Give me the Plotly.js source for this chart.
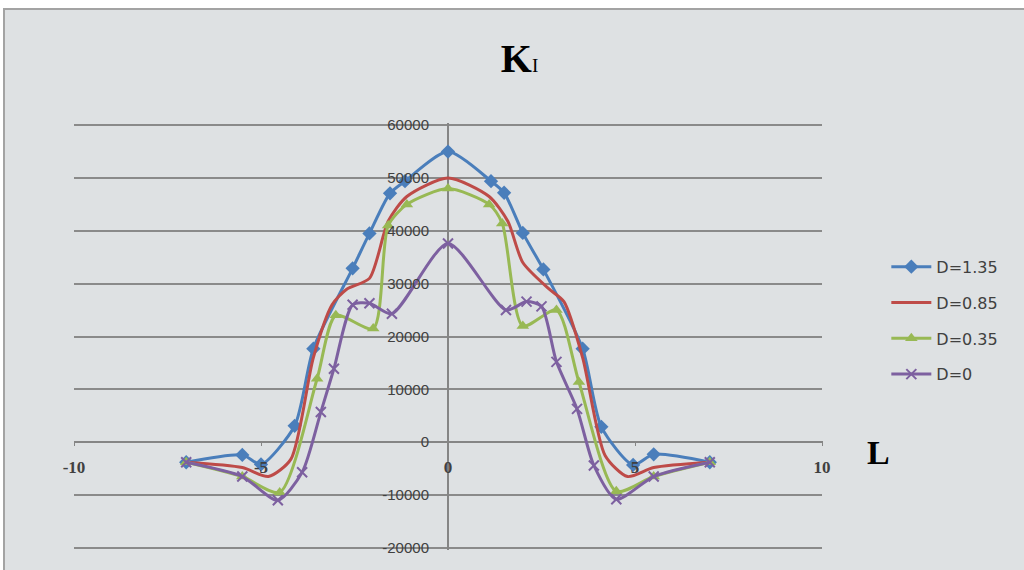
<!DOCTYPE html>
<html>
<head>
<meta charset="utf-8">
<script src="https://cdn.plot.ly/plotly-3.0.1.min.js"></script>
<style>
  html, body { margin: 0; padding: 0; background: #ffffff; width: 1024px; height: 570px; overflow: hidden; }
  #frame { position: absolute; left: 3px; top: 8px; width: 1019px; height: 560px;
           border-top: 2px solid #a3a3a3; border-left: 2px solid #a3a3a3; background: #dee1e3; }
  #chart { width: 1019px; height: 560px; }
</style>
</head>
<body>
<div id="frame"><div id="chart"></div></div>
<script>
// Series names
const seriesNames = ["D=1.35", "D=0.85", "D=0.35", "D=0"];

// D=1.35
const x135 = [-7, -5.5, -5, -4.1, -3.6, -2.55, -2.1, -1.55, -1.15, 0, 1.15, 1.5, 2.0, 2.55, 3.6, 4.1, 4.95, 5.5, 7];
const y135 = [-3800, -2400, -4200, 3100, 17700, 32900, 39500, 47100, 49400, 55000, 49400, 47200, 39600, 32700, 17700, 2900, -4300, -2300, -3800];

// D=0.85
const x085 = [-7, -5.5, -4.8, -4.2, -3.6, -3.1, -2.7, -2.1, -1.6, -1.1, 0, 1.1, 1.6, 2.0, 2.7, 3.1, 3.6, 4.2, 4.8, 5.5, 7];
const y085 = [-3800, -4800, -6500, -3200, 16000, 26000, 29000, 31000, 41800, 46500, 50000, 46500, 41800, 34000, 29000, 26600, 16000, -2500, -6500, -4800, -3800];

// D=0.35
const x035 = [-7, -5.5, -4.5, -3.5, -3.0, -2.0, -1.6, -1.1, 0, 1.1, 1.45, 2.0, 2.9, 3.5, 4.5, 5.5, 7];
const y035 = [-3800, -6500, -9500, 12000, 24000, 21500, 41000, 45000, 48000, 45000, 41400, 22000, 25000, 11400, -9300, -6500, -3800];

// D=0
const x000 = [-7, -5.5, -4.55, -3.9, -3.4, -3.05, -2.55, -2.1, -1.5, 0, 1.55, 2.1, 2.5, 2.9, 3.45, 3.9, 4.5, 5.5, 7];
const y000 = [-3800, -6500, -11000, -5700, 5700, 13900, 26000, 26300, 24300, 37600, 25000, 26600, 25700, 15200, 6300, -4400, -10800, -6500, -3800];

// Tick values and labels
const xTicks = [-10, -5, 0, 5, 10];
const xTickText = ["-10", "-5", "0", "5", "10"];
const yTicks = [-20000, -10000, 0, 10000, 20000, 30000, 40000, 50000, 60000];
const yTickText = ["-20000", "-10000", "0", "10000", "20000", "30000", "40000", "50000", "60000"];

const colors = ["#4a7ebb", "#be4b48", "#98b954", "#7d60a0"];
const lineStyle = (c) => ({ color: c, width: 3, shape: "spline", smoothing: 0.7 });

const traces = [
  { x: x135, y: y135, name: seriesNames[0], legendgroup: "a", mode: "lines+markers",
    line: lineStyle(colors[0]), marker: { symbol: "diamond", size: 11, color: colors[0] } },
  { x: x085, y: y085, name: seriesNames[1], legendgroup: "b", mode: "lines",
    line: lineStyle(colors[1]) },
  { x: x035, y: y035, name: seriesNames[2], legendgroup: "c", mode: "lines+markers",
    line: lineStyle(colors[2]), marker: { symbol: "triangle-up", size: 11, color: colors[2] } },
  { x: x000, y: y000, name: seriesNames[3], legendgroup: "d", mode: "lines+markers",
    line: lineStyle(colors[3]), marker: { symbol: "x-thin", size: 10, color: colors[3], line: { color: colors[3], width: 2 } } }
];

const layout = {
  width: 1019, height: 560,
  paper_bgcolor: "#dee1e3", plot_bgcolor: "#dee1e3",
  margin: { l: 69, r: 202, t: 113, b: 20 },
  title: { text: "<b>K</b><span style=\"font-size:19px\">I</span>", xref: "container", x: 0.505, xanchor: "center",
           yref: "container", y: 0.915, yanchor: "middle",
           font: { family: "Liberation Serif", size: 40, color: "#000000" } },
  xaxis: {
    range: [-10, 10], anchor: "free", position: 0.2576,
    tickvals: xTicks, ticktext: xTickText,
    showgrid: false, zeroline: true, zerolinecolor: "#858585", zerolinewidth: 2,
    showline: false, ticks: "outside", ticklen: 5, tickcolor: "#858585", tickwidth: 1,
    ticklabelstandoff: 7,
    tickfont: { family: "Liberation Serif", size: 17, color: "#404040", weight: "bold" },
    fixedrange: true
  },
  yaxis: {
    range: [-20400, 60400], anchor: "free", position: 0.5,
    tickvals: yTicks, ticktext: yTickText, ticks: "", showline: false,
    showgrid: true, gridcolor: "#8a8a8a", gridwidth: 2,
    zeroline: true, zerolinecolor: "#858585", zerolinewidth: 2,
    ticklabelstandoff: 19,
    tickfont: { family: "Liberation Sans", size: 15, color: "#404040" },
    fixedrange: true
  },
  showlegend: true,
  legend: {
    x: 1.086, xanchor: "left", y: 0.703, yanchor: "top",
    bgcolor: "rgba(0,0,0,0)", borderwidth: 0,
    font: { family: "DejaVu Sans", size: 16, color: "#404040" },
    traceorder: "grouped", tracegroupgap: 12, itemwidth: 40
  },
  annotations: [
    { text: "<b>L</b>", xref: "paper", yref: "paper", x: 1.075, y: 0.2295,
      xanchor: "center", yanchor: "middle", showarrow: false,
      font: { family: "Liberation Serif", size: 34, color: "#000000" } }
  ]
};

Plotly.newPlot("chart", traces, layout, { displayModeBar: false, staticPlot: true });
</script>
</body>
</html>
